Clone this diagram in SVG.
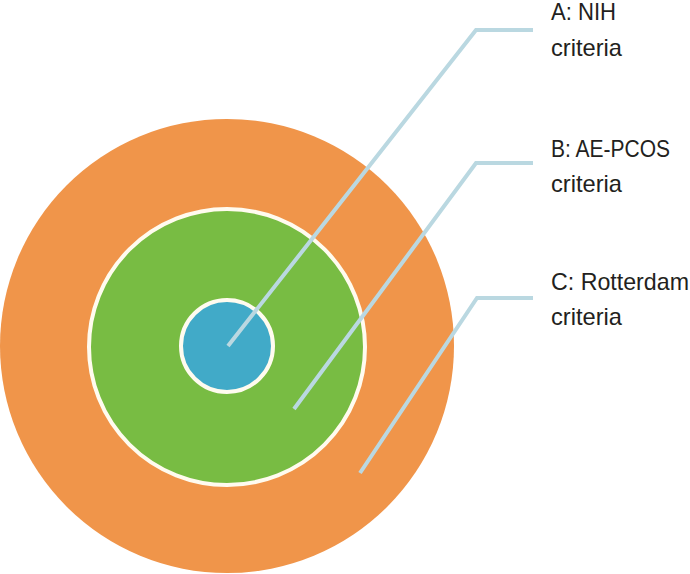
<svg xmlns="http://www.w3.org/2000/svg" width="690" height="574" viewBox="0 0 690 574">
<style>
.lbl{font-family:"Liberation Sans",Arial,sans-serif;font-size:24px;fill:#231f20}
.conn{fill:none;stroke:#bad8e1;stroke-width:4;stroke-linejoin:miter}
</style>
<rect width="690" height="574" fill="#ffffff"/>
<g id="node-C">
<circle cx="227" cy="346" r="227" fill="#f0954a"/>
</g>
<g id="node-B">
<circle cx="227" cy="347" r="138" fill="#78bc43" stroke="#fffbef" stroke-width="4"/>
</g>
<g id="node-A">
<circle cx="227" cy="346" r="46" fill="#41aac8" stroke="#fffbef" stroke-width="4"/>
</g>
<g id="connectors">
<polyline class="conn" points="228,346 476,30 533,30"/>
<polyline class="conn" points="294,409 476,163 533,163"/>
<polyline class="conn" points="360,473 477,298 533,298"/>
</g>
<g id="label-A">
<text class="lbl" x="551" y="20" textLength="65" lengthAdjust="spacingAndGlyphs">A: NIH</text>
<text class="lbl" x="551" y="56" textLength="71" lengthAdjust="spacingAndGlyphs">criteria</text>
</g>
<g id="label-B">
<text class="lbl" x="551" y="157" textLength="119" lengthAdjust="spacingAndGlyphs">B: AE-PCOS</text>
<text class="lbl" x="551" y="192" textLength="71" lengthAdjust="spacingAndGlyphs">criteria</text>
</g>
<g id="label-C">
<text class="lbl" x="551" y="290" textLength="138" lengthAdjust="spacingAndGlyphs">C: Rotterdam</text>
<text class="lbl" x="551" y="325" textLength="71" lengthAdjust="spacingAndGlyphs">criteria</text>
</g>
</svg>
